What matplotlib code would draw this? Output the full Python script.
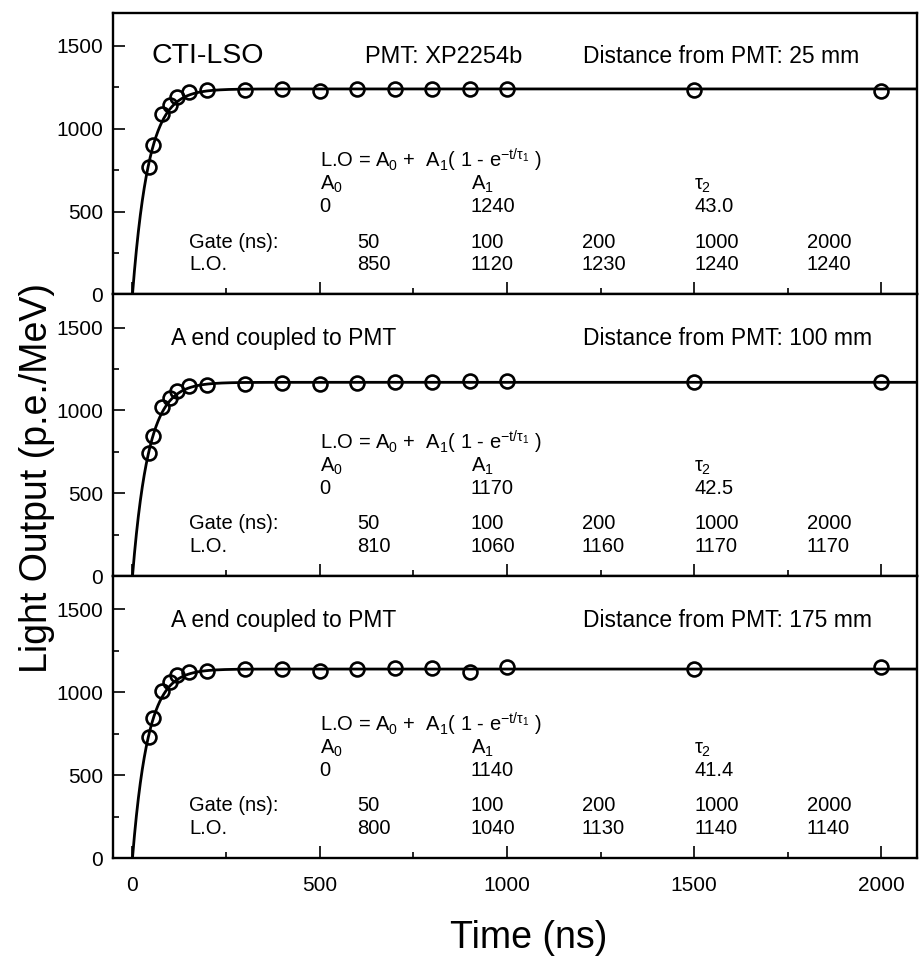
import numpy as np
import matplotlib
matplotlib.use("Agg")
import matplotlib.pyplot as plt
from matplotlib.ticker import MultipleLocator

plt.rcParams['font.family'] = ['Liberation Sans', 'DejaVu Sans']
plt.rcParams['mathtext.fontset'] = 'custom'
plt.rcParams['mathtext.rm'] = 'Liberation Sans'
plt.rcParams['mathtext.it'] = 'Liberation Sans'
plt.rcParams['mathtext.sf'] = 'Liberation Sans'

# measured light output vs gate time, one list per source position
gate_ns = [45, 55, 80, 100, 120, 150, 200, 300, 400, 500, 600, 700, 800, 900, 1000, 1500, 2000]
lo_25mm = [772, 903, 1090, 1144, 1194, 1224, 1234, 1234, 1238, 1226, 1238, 1238, 1238, 1238, 1238, 1232, 1230]
lo_100mm = [743, 849, 1020, 1074, 1120, 1145, 1151, 1160, 1165, 1160, 1165, 1170, 1170, 1175, 1175, 1170, 1170]
lo_175mm = [729, 847, 1008, 1060, 1104, 1124, 1130, 1140, 1140, 1128, 1140, 1148, 1148, 1120, 1154, 1143, 1150]

# fit parameters  L.O = A0 + A1 (1 - exp(-t/tau))
fit_a0 = [0, 0, 0]
fit_a1 = [1240, 1170, 1140]
fit_tau = [43.0, 42.5, 41.4]

# summary table
table_gates = [50, 100, 200, 1000, 2000]
table_lo_25mm = [850, 1120, 1230, 1240, 1240]
table_lo_100mm = [810, 1060, 1160, 1170, 1170]
table_lo_175mm = [800, 1040, 1130, 1140, 1140]

left_titles = ["CTI-LSO", "A end coupled to PMT", "A end coupled to PMT"]
distances_mm = [25, 100, 175]

panels = [
    (lo_25mm, table_lo_25mm),
    (lo_100mm, table_lo_100mm),
    (lo_175mm, table_lo_175mm),
]

fig = plt.figure(figsize=(9.19, 9.56), dpi=100)
top, bottom = 1 - 12.7 / 956, 1 - 858 / 956
h = (top - bottom) / 3
left, right = 113 / 919, 917 / 919

table_x = [599, 904, 1200, 1500, 1800]
fs_tab = 14.5

for i, (lo, tab) in enumerate(panels):
    ax = fig.add_axes([left, top - (i + 1) * h, right - left, h])
    t = np.linspace(0, 2095, 800)
    ax.plot(t, fit_a0[i] + fit_a1[i] * (1 - np.exp(-t / fit_tau[i])), color='black', lw=2.0)
    ax.plot(gate_ns, lo, 'o', mfc='none', mec='black', ms=10, mew=1.9)

    ax.set_xlim(-52, 2095)
    ax.set_ylim(0, 1700)
    ax.xaxis.set_major_locator(MultipleLocator(500))
    ax.xaxis.set_minor_locator(MultipleLocator(250))
    ax.yaxis.set_major_locator(MultipleLocator(500))
    ax.yaxis.set_minor_locator(MultipleLocator(250))
    ax.tick_params(which='both', direction='in', top=False, right=False, labelsize=15)
    ax.tick_params(which='major', length=8.5, width=1.2)
    ax.tick_params(which='minor', length=4.5, width=1.2)
    ax.tick_params(axis='y', pad=7)
    ax.tick_params(axis='x', pad=13)
    for s in ax.spines.values():
        s.set_linewidth(1.7)
    if i < 2:
        ax.tick_params(axis='x', labelbottom=False)

    # headers
    if i == 0:
        ax.text(51, 1395, left_titles[i], fontsize=20.5, va='baseline')
        ax.text(621, 1395, "PMT: XP2254b", fontsize=17, va='baseline')
    else:
        ax.text(102, 1395, left_titles[i], fontsize=16.5, va='baseline')
    ax.text(1203, 1395, f"Distance from PMT: {distances_mm[i]} mm", fontsize=16.5, va='baseline')

    # fit formula and parameters
    ax.text(500, 765, r"L.O = A$_0$ +  A$_1$( 1 - e$^{-t/\tau_1}$ )", fontsize=fs_tab, va='baseline')
    ax.text(500, 630, r"A$_0$", fontsize=fs_tab, va='baseline')
    ax.text(904, 630, r"A$_1$", fontsize=fs_tab, va='baseline')
    ax.text(1500, 630, r"$\tau_2$", fontsize=fs_tab, va='baseline')
    ax.text(500, 495, f"{fit_a0[i]}", fontsize=fs_tab, va='baseline')
    ax.text(904, 495, f"{fit_a1[i]}", fontsize=fs_tab, va='baseline')
    ax.text(1500, 495, f"{fit_tau[i]:.1f}", fontsize=fs_tab, va='baseline')

    # gate table
    ax.text(151, 283, "Gate (ns):", fontsize=fs_tab, va='baseline')
    ax.text(151, 145, "L.O.", fontsize=fs_tab, va='baseline')
    for x, g, v in zip(table_x, table_gates, tab):
        ax.text(x, 283, f"{g}", fontsize=fs_tab, va='baseline')
        ax.text(x, 145, f"{v}", fontsize=fs_tab, va='baseline')

fig.text(529 / 919, 1 - 947.7 / 956, "Time (ns)", fontsize=27, ha='center', va='baseline')
fig.text(47 / 919, 1 - 673 / 956, "Light Output (p.e./MeV)", fontsize=27, rotation=90,
         rotation_mode='anchor', ha='left', va='baseline')

fig.savefig("out.png", dpi=100)
